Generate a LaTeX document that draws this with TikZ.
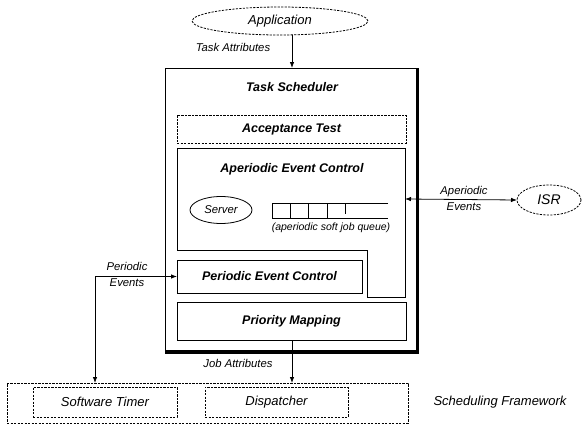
\documentclass[tikz,border=0pt]{standalone}
\usepackage{fontspec}
\setmainfont{Liberation Sans}
\usetikzlibrary{arrows.meta,shapes.geometric}
\begin{document}
\begin{tikzpicture}[x=1pt,y=-1pt,
  every node/.style={inner sep=0pt,outer sep=0pt},
  thin line/.style={line width=0.8pt},
  dashline/.style={line width=0.8pt,dash pattern=on 2.2pt off 1.3pt},
  title/.style={font=\fontsize{12.5}{14}\selectfont\bfseries\itshape},
  lab/.style={font=\fontsize{11.3}{13}\selectfont\itshape},
  big/.style={font=\fontsize{13}{15}\selectfont\itshape},
  arr/.style={line width=0.8pt,-{Latex[length=6pt,width=4.5pt]}},
  darr/.style={line width=0.8pt,{Latex[length=6pt,width=4.5pt]}-{Latex[length=6pt,width=4.5pt]}},
  box/.style={draw,thin line,rectangle}]
\useasboundingbox (0,0) rectangle (582,426);
% Application
\node[ellipse,draw,dashline,minimum width=176pt,minimum height=28pt,big] (app) at (280,21) {Application};
% Task scheduler outer box
\node[box,minimum width=253pt,minimum height=285pt] (ts) at (291.5,210.5) {};
\draw[line width=2.6pt] ([xshift=-0.5pt]ts.north east) -- ([xshift=-0.5pt,yshift=1.3pt]ts.south east) -- ([yshift=1.3pt]ts.south west);
\node[title] (tst) at (292,87) {Task Scheduler};
% Acceptance test
\node[draw,dashline,minimum width=229pt,minimum height=28pt,title] (acc) at (291.5,129) {Acceptance Test};
% Aperiodic event control (notched box)
\draw[thin line] (177,148) -- (405,148) -- (405,297) -- (367,297) -- (367,250) -- (177,250) -- cycle;
\coordinate (aecE) at (405,199);
\node[title] (aect) at (292,169) {Aperiodic Event Control};
\node[ellipse,draw,thin line,minimum width=62pt,minimum height=27pt,lab] (srv) at (221,210) {Server};
% queue
\draw[thin line] (388,203) -- (272,203) -- (272,218) -- (388,218);
\draw[thin line] (290,203) -- (290,218) (308,203) -- (308,218) (327,203) -- (327,218) (345,203) -- (345,214);
\node[font=\fontsize{10.5}{12}\selectfont\itshape] (qlab) at (331,228) {(aperiodic soft job queue)};
% Periodic event control
\node[box,minimum width=185pt,minimum height=33pt,title] (pec) at (269.5,276.5) {Periodic Event Control};
% Priority mapping
\node[box,minimum width=229pt,minimum height=38pt,title] (pm) at (291.5,321) {Priority Mapping};
% ISR
\node[ellipse,draw,dashline,minimum width=64pt,minimum height=30pt,font=\fontsize{14}{16}\selectfont\itshape] (isr) at (549,200) {ISR};
% Scheduling framework
\node[draw,dashline,minimum width=401pt,minimum height=40pt] (sf) at (207.5,403) {};
\node[draw,dashline,minimum width=144pt,minimum height=30pt,big] (st) at (105,402) {Software Timer};
\node[draw,dashline,minimum width=143pt,minimum height=30pt,big] (disp) at (276.5,402) {Dispatcher};
\node[big] (sft) at (500,402) {Scheduling Framework};
% connectors
\draw[arr] (app.south -| 292,0) -- (292,68);
\node[lab] (tal) at (233,47) {Task Attributes};
\draw[darr] (aecE) -- (isr.west);
\node[lab] (ae1) at (464,192) {Aperiodic};
\node[lab] (ae2) at (464,207) {Events};
\coordinate (stTop) at (95,383);
\draw[darr] (pec.west) -| (stTop);
\node[lab] (pe1) at (127,266) {Periodic};
\node[lab] (pe2) at (127,283) {Events};
\coordinate (dTop) at (292,383);
\draw[arr] (pm.south -| dTop) -- (dTop);
\node[lab] (jal) at (238,363) {Job Attributes};
\end{tikzpicture}
\end{document}
